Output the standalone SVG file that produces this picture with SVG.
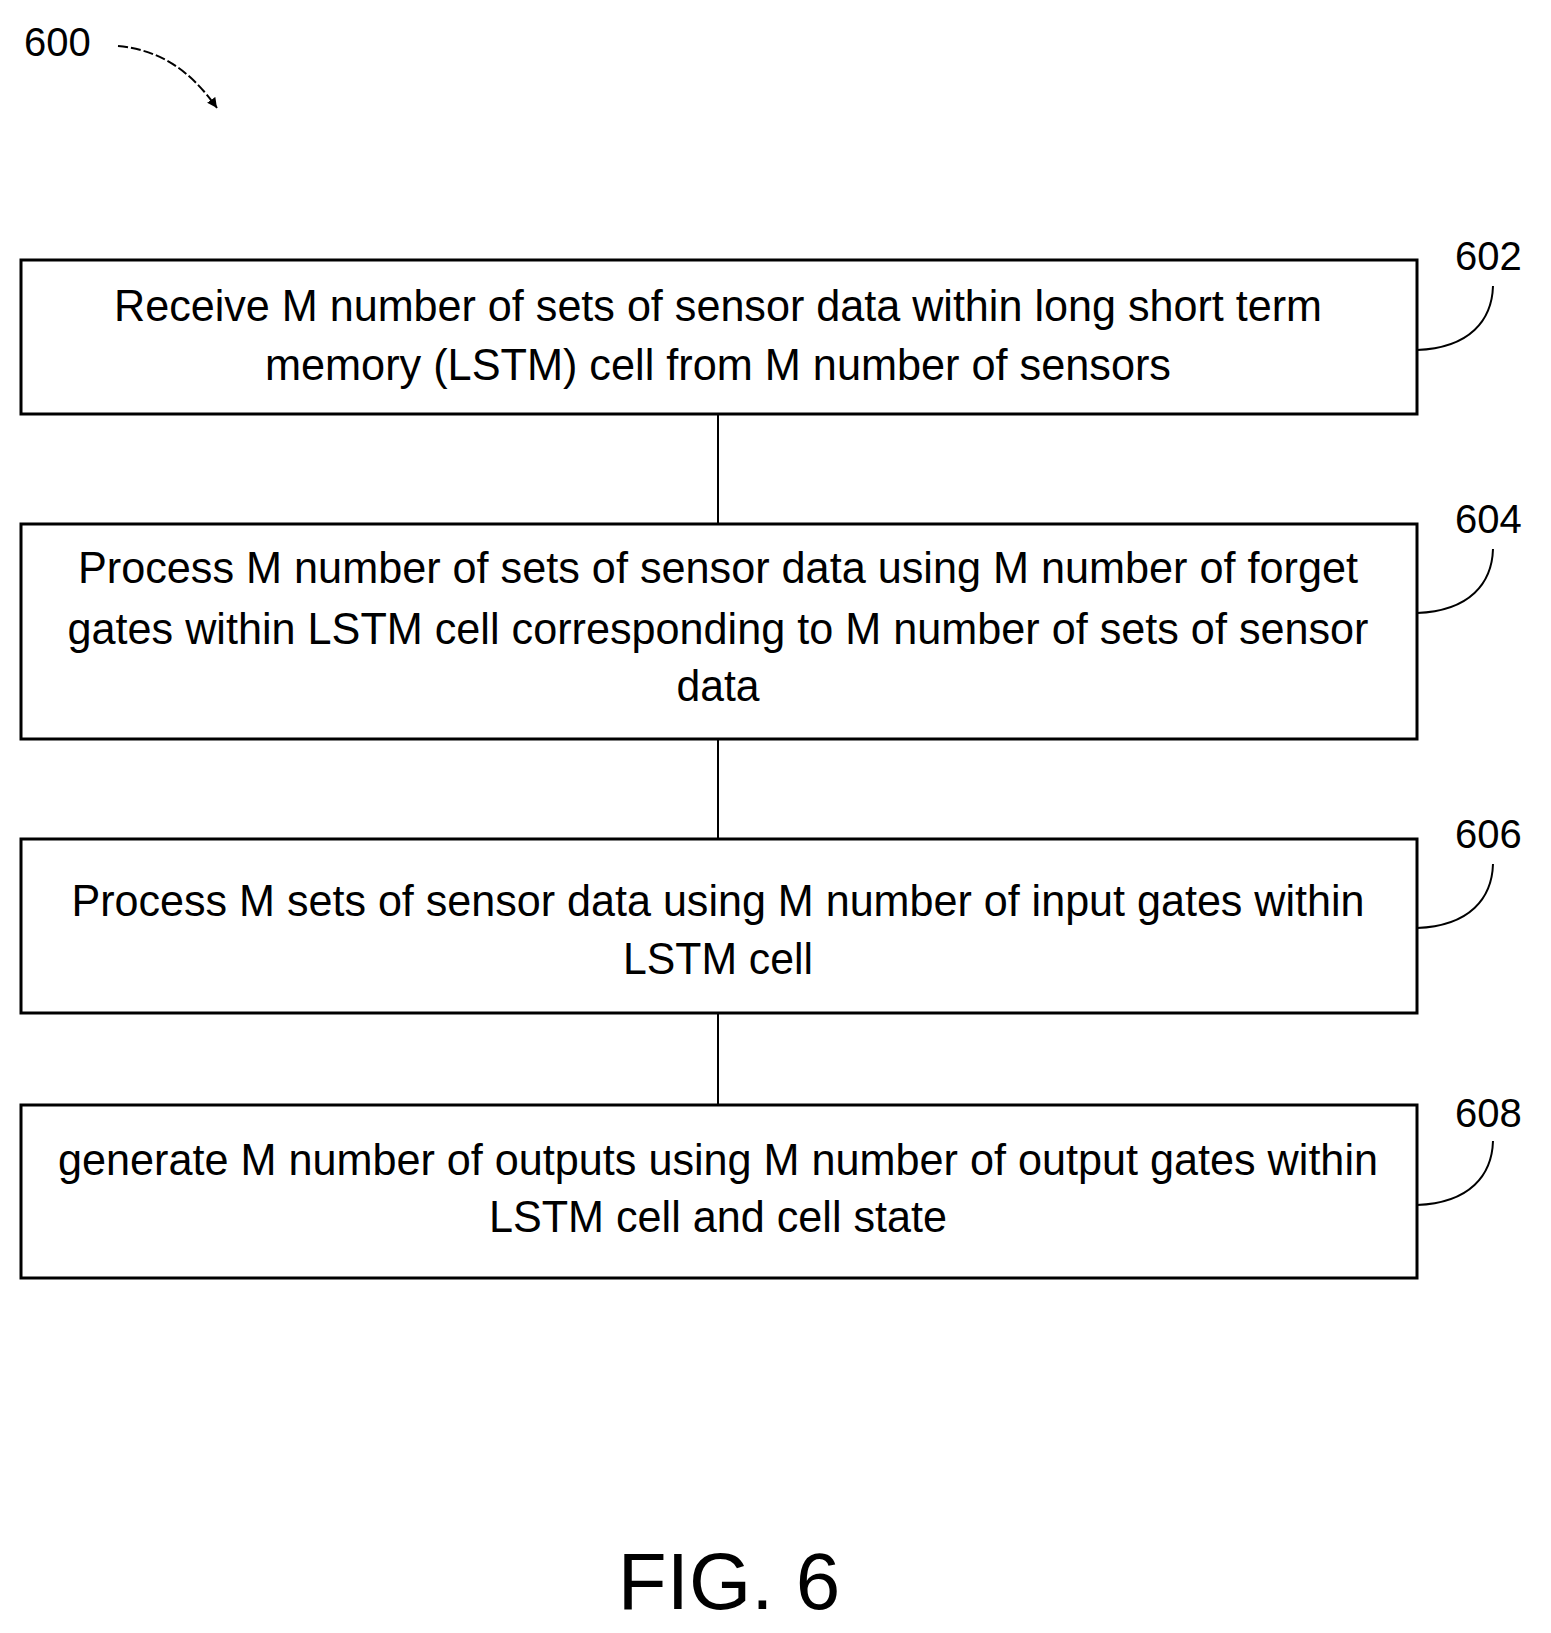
<svg xmlns="http://www.w3.org/2000/svg" width="1551" height="1633" viewBox="0 0 1551 1633">
<style>
.b{fill:#fff;stroke:#000;stroke-width:3}
.t{font-family:"Liberation Sans",Arial,sans-serif;font-size:44px;text-anchor:middle;fill:#000}
.n{font-family:"Liberation Sans",Arial,sans-serif;font-size:40px;fill:#000}
.l{fill:none;stroke:#000;stroke-width:2}
</style>
<defs><marker id="a" markerWidth="12" markerHeight="12" refX="10" refY="5" orient="auto" markerUnits="userSpaceOnUse"><path d="M0,0 L10,5 L0,10 Z" fill="#000"/></marker></defs>
<rect width="1551" height="1633" fill="#fff"/>
<g id="connectors">
<line class="l" x1="718" y1="414" x2="718" y2="524"/>
<line class="l" x1="718" y1="739" x2="718" y2="839"/>
<line class="l" x1="718" y1="1013" x2="718" y2="1105"/>
<path class="l" d="M118,46 C160,50 190,70 217,108" stroke-dasharray="10,3" marker-end="url(#a)"/>
<path class="l" d="M1417,350 C1470,348 1492,320 1493,286"/>
<path class="l" d="M1417,613 C1470,611 1492,583 1493,549"/>
<path class="l" d="M1417,928 C1470,926 1492,898 1493,864"/>
<path class="l" d="M1417,1205 C1470,1203 1492,1175 1493,1141"/>
</g>
<text class="n" x="24" y="56">600</text>
<g id="n602"><rect class="b" x="21" y="260" width="1396" height="154"/>
<text class="t" x="718" y="321" textLength="1208" lengthAdjust="spacingAndGlyphs">Receive M number of sets of sensor data within long short term</text>
<text class="t" x="718" y="380" textLength="906" lengthAdjust="spacingAndGlyphs">memory (LSTM) cell from M number of sensors</text>
<text class="n" x="1455" y="270">602</text></g>
<g id="n604"><rect class="b" x="21" y="524" width="1396" height="215"/>
<text class="t" x="718" y="583" textLength="1280" lengthAdjust="spacingAndGlyphs">Process M number of sets of sensor data using M number of forget</text>
<text class="t" x="718" y="644" textLength="1301" lengthAdjust="spacingAndGlyphs">gates within LSTM cell corresponding to M number of sets of sensor</text>
<text class="t" x="718" y="701" textLength="83" lengthAdjust="spacingAndGlyphs">data</text>
<text class="n" x="1455" y="533">604</text></g>
<g id="n606"><rect class="b" x="21" y="839" width="1396" height="174"/>
<text class="t" x="718" y="916" textLength="1293" lengthAdjust="spacingAndGlyphs">Process M sets of sensor data using M number of input gates within</text>
<text class="t" x="718" y="974" textLength="190" lengthAdjust="spacingAndGlyphs">LSTM cell</text>
<text class="n" x="1455" y="848">606</text></g>
<g id="n608"><rect class="b" x="21" y="1105" width="1396" height="173"/>
<text class="t" x="718" y="1175" textLength="1320" lengthAdjust="spacingAndGlyphs">generate M number of outputs using M number of output gates within</text>
<text class="t" x="718" y="1232" textLength="458" lengthAdjust="spacingAndGlyphs">LSTM cell and cell state</text>
<text class="n" x="1455" y="1127">608</text></g>
<text x="729" y="1609" font-family="Liberation Sans,Arial,sans-serif" font-size="80" text-anchor="middle">FIG. 6</text>
</svg>
